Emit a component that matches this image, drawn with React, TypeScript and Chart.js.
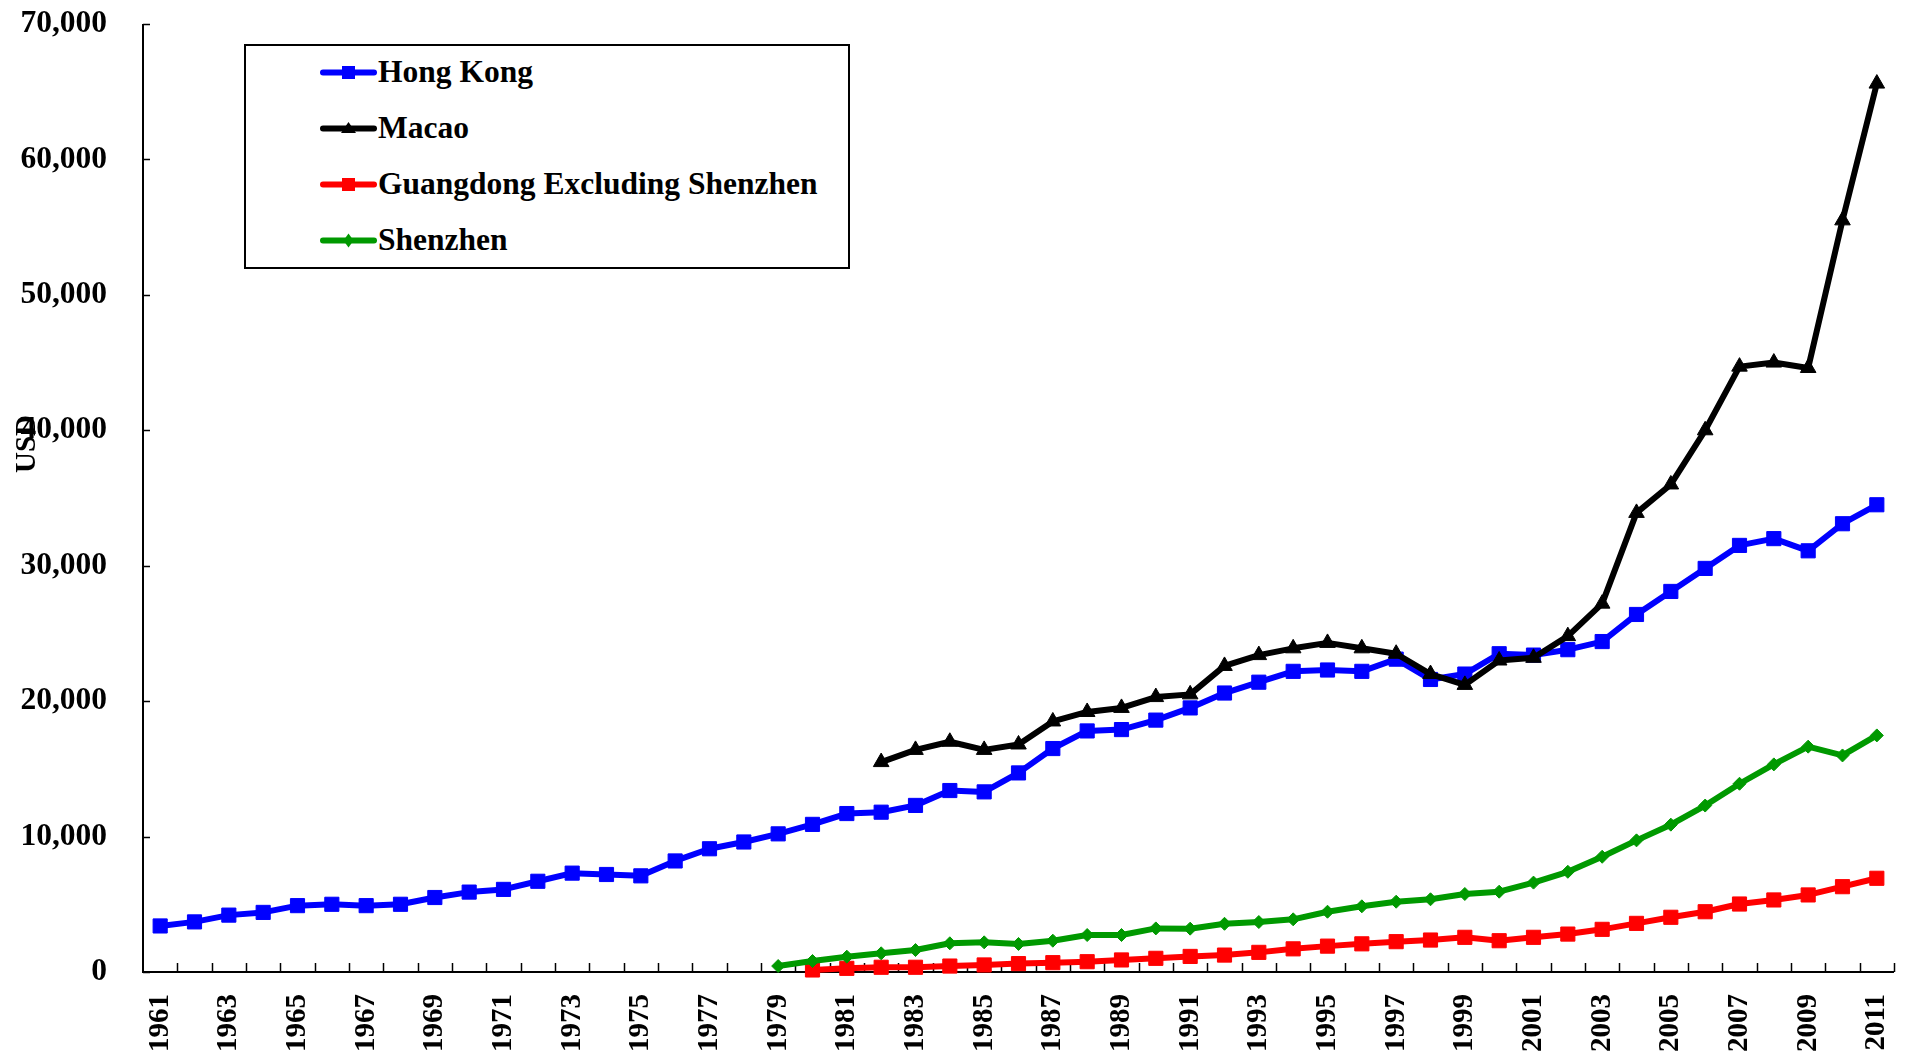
import React, { useEffect, useRef } from 'react';
import { Chart, registerables } from 'chart.js';

Chart.register(...registerables);

const years = [
  '1961', '1962', '1963', '1964', '1965', '1966', '1967', '1968', '1969', '1970',
  '1971', '1972', '1973', '1974', '1975', '1976', '1977', '1978', '1979', '1980',
  '1981', '1982', '1983', '1984', '1985', '1986', '1987', '1988', '1989', '1990',
  '1991', '1992', '1993', '1994', '1995', '1996', '1997', '1998', '1999', '2000',
  '2001', '2002', '2003', '2004', '2005', '2006', '2007', '2008', '2009', '2010',
  '2011',
];

const hongKong = [
  3400, 3700, 4200, 4400, 4900, 5000, 4900, 5000, 5500, 5900,
  6100, 6700, 7300, 7200, 7100, 8200, 9100, 9600, 10200, 10900,
  11700, 11800, 12300, 13400, 13300, 14700, 16500, 17800, 17900, 18600,
  19500, 20600, 21400, 22200, 22300, 22200, 23100, 21600, 22000, 23500,
  23400, 23800, 24400, 26400, 28100, 29800, 31500, 32000, 31100, 33100,
  34500,
];

const macao = [
  null, null, null, null, null, null, null, null, null, null,
  null, null, null, null, null, null, null, null, null, null,
  null, 15500, 16400, 17000, 16400, 16800, 18500, 19200, 19500, 20300,
  20500, 22600, 23400, 23900, 24300, 23900, 23500, 22000, 21200, 23000,
  23200, 24800, 27200, 33900, 36000, 40000, 44700, 45000, 44600, 55500,
  65600,
];

const guangdongExSz = [
  null, null, null, null, null, null, null, null, null, null,
  null, null, null, null, null, null, null, null, null, 150,
  270, 350, 350, 440, 520, 620, 690, 760, 890, 1010,
  1150, 1250, 1450, 1710, 1910, 2080, 2240, 2360, 2560, 2310,
  2560, 2800, 3150, 3590, 4040, 4450, 5020, 5320, 5690, 6300,
  6920,
];

const shenzhen = [
  null, null, null, null, null, null, null, null, null, null,
  null, null, null, null, null, null, null, null, 440, 810,
  1130, 1380, 1620, 2120, 2190, 2070, 2310, 2730, 2730, 3220,
  3200, 3560, 3690, 3890, 4450, 4850, 5190, 5370, 5760, 5930,
  6600, 7400, 8510, 9720, 10880, 12290, 13900, 15330, 16640, 15990,
  17470,
];

const yTickValues = [0, 10000, 20000, 30000, 40000, 50000, 60000, 70000];
const yAxisTitle = 'USD';
const seriesNames = ['Hong Kong', 'Macao', 'Guangdong Excluding Shenzhen', 'Shenzhen'];
const seriesColors = ['#0000FF', '#000000', '#FF0000', '#009900'];

const FONT_FAMILY = "'Liberation Serif', 'Times New Roman', Times, serif";
const FONT_SIZE = 31.5;
const X_FONT_SIZE = 29;
const TITLE_FONT_SIZE = 29;

const excelAxesPlugin = {
  id: 'excelAxes',
  beforeDatasetsDraw(chart: any) {
    const { ctx, chartArea: a } = chart;
    ctx.save();
    ctx.strokeStyle = '#000';
    ctx.lineWidth = 2;
    ctx.beginPath();
    ctx.moveTo(a.left, a.top);
    ctx.lineTo(a.left, a.bottom);
    ctx.lineTo(a.right, a.bottom);
    ctx.stroke();
    ctx.lineWidth = 1.5;
    ctx.beginPath();
    const n = years.length;
    const w = (a.right - a.left) / n;
    for (let i = 1; i <= n; i++) {
      const x = Math.round(a.left + i * w) + 0.5;
      ctx.moveTo(x, a.bottom);
      ctx.lineTo(x, a.bottom - 9);
    }
    const ys = chart.scales.y;
    for (const v of yTickValues) {
      const y = Math.round(ys.getPixelForValue(v)) + 0.5;
      ctx.moveTo(a.left, y);
      ctx.lineTo(a.left + 7, y);
    }
    ctx.stroke();
    ctx.restore();
  },
  afterDraw(chart: any) {
    const { ctx } = chart;
    ctx.save();
    ctx.translate(28, 444);
    ctx.rotate(-Math.PI / 2);
    ctx.font = `bold ${TITLE_FONT_SIZE}px ${FONT_FAMILY}`;
    ctx.fillStyle = '#000';
    ctx.textAlign = 'center';
    ctx.textBaseline = 'middle';
    ctx.fillText(yAxisTitle, 0, 0);
    ctx.restore();
  },
};

function LegendMarker({ index }: { index: number }) {
  const c = seriesColors[index];
  let shape: React.ReactNode = null;
  if (index === 0 || index === 2) {
    shape = <rect x={22} y={4} width={13} height={13} fill={c} />;
  } else if (index === 1) {
    shape = <polygon points="28.5,4 36,15 21,15" fill={c} />;
  } else {
    shape = <polygon points="28.5,3.5 33.5,10.5 28.5,17.5 23.5,10.5" fill={c} />;
  }
  return (
    <svg width={58} height={21} style={{ position: 'absolute', left: 74, top: -10.5 }}>
      <line x1={3} y1={10.5} x2={54} y2={10.5} stroke={c} strokeWidth={6} strokeLinecap="round" />
      {shape}
    </svg>
  );
}

export default function App() {
  const canvasRef = useRef<HTMLCanvasElement | null>(null);

  useEffect(() => {
    if (!canvasRef.current) return;
    const datasets = [hongKong, macao, guangdongExSz, shenzhen].map((data, i) => ({
      label: seriesNames[i],
      data,
      borderColor: seriesColors[i],
      backgroundColor: seriesColors[i],
      pointBackgroundColor: seriesColors[i],
      pointBorderColor: seriesColors[i],
      borderWidth: 6,
      borderJoinStyle: 'round' as const,
      borderCapStyle: 'round' as const,
      pointStyle: ['rect', 'triangle', 'rect', 'rectRot'][i],
      pointRadius: [10, 9, 10, 6.5][i],
      pointBorderWidth: 1,
      tension: 0,
      fill: false,
      spanGaps: false,
      clip: false as any,
      order: 4 - i,
    }));

    const chart = new Chart(canvasRef.current, {
      type: 'line',
      data: { labels: years, datasets },
      plugins: [excelAxesPlugin],
      options: {
        animation: false,
        responsive: false,
        events: [],
        layout: { padding: { left: 0, right: 1, top: 24, bottom: 0 } },
        plugins: {
          legend: { display: false },
          tooltip: { enabled: false },
        },
        scales: {
          x: {
            type: 'category',
            offset: true,
            grid: { display: false, drawTicks: false },
            border: { display: false },
            ticks: {
              autoSkip: false,
              maxRotation: 90,
              minRotation: 90,
              padding: 22,
              color: '#000',
              font: { family: FONT_FAMILY, size: X_FONT_SIZE, weight: 'bold' },
              callback: (_v: any, i: number) => (i % 2 === 0 ? years[i] : ''),
            },
            afterFit: (s: any) => {
              s.height = 83;
              s.paddingLeft = 0;
              s.paddingRight = 0;
            },
          },
          y: {
            min: 0,
            max: 70000,
            grid: { display: false, drawTicks: false },
            border: { display: false },
            ticks: {
              stepSize: 10000,
              padding: 36,
              color: '#000',
              font: { family: FONT_FAMILY, size: FONT_SIZE, weight: 'bold' },
              callback: (v: any) => Number(v).toLocaleString('en-US'),
            },
            afterFit: (s: any) => {
              s.width = 143;
              s.paddingTop = 0;
              s.paddingBottom = 0;
            },
          },
        },
      } as any,
    });
    return () => chart.destroy();
  }, []);

  const rowCenters = [28, 84, 140, 196];

  return (
    <div style={{ position: 'fixed', left: 0, top: 0, width: 1905, height: 1055, background: '#fff' }}>
      <canvas ref={canvasRef} width={1905} height={1055} style={{ display: 'block', width: 1905, height: 1055 }} />
      <div
        style={{
          position: 'absolute',
          left: 244,
          top: 44,
          width: 606,
          height: 225,
          border: '2px solid #000',
          boxSizing: 'border-box',
          background: '#fff',
        }}
      >
        {seriesNames.map((name, i) => (
          <div key={name} style={{ position: 'absolute', left: 0, top: rowCenters[i] - 2, width: '100%', height: 0 }}>
            <LegendMarker index={i} />
            <div
              style={{
                position: 'absolute',
                left: 132,
                top: -18,
                height: 36,
                lineHeight: '36px',
                whiteSpace: 'nowrap',
                fontFamily: FONT_FAMILY,
                fontWeight: 'bold',
                fontSize: FONT_SIZE,
                color: '#000',
              }}
            >
              {name}
            </div>
          </div>
        ))}
      </div>
    </div>
  );
}
